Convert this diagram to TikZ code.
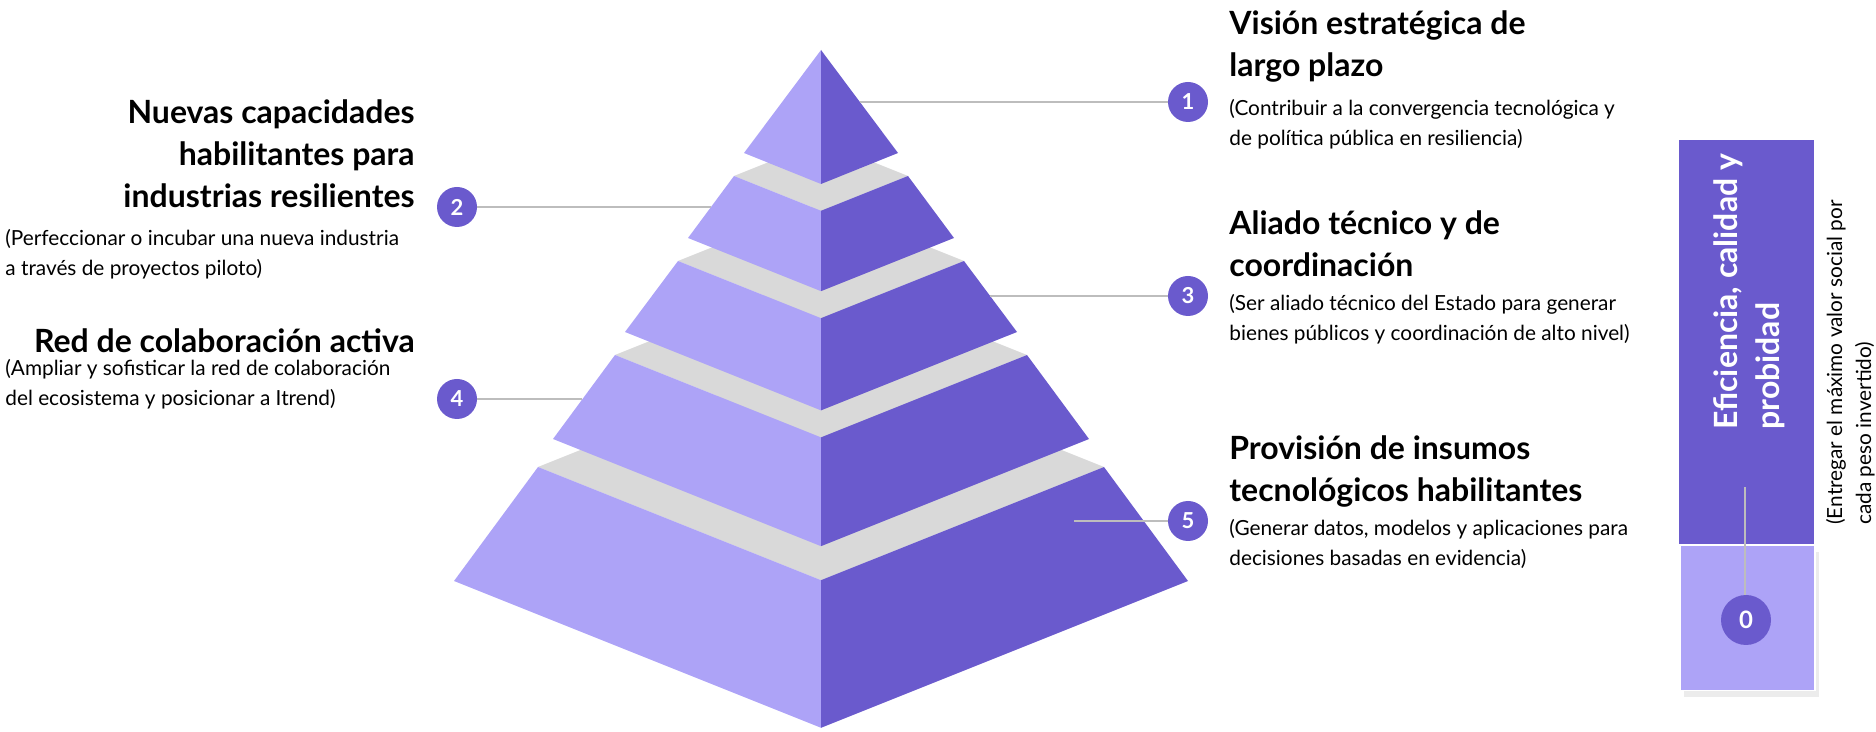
\documentclass[tikz,border=0pt]{standalone}
\usepackage{fontspec}
\setmainfont{Lato}
\usetikzlibrary{shadows}
\definecolor{pyrdark}{HTML}{6A5ACD}
\definecolor{pyrlight}{HTML}{ADA3F7}
\definecolor{pyrtop}{HTML}{D9D9D9}
\definecolor{leader}{HTML}{BDBDBD}

\begin{document}
\begin{tikzpicture}[
        x=0.5pt, y=-0.5pt,
        title/.style={inner sep=0, font=\fontsize{16}{21}\selectfont\bfseries},
        body/.style={inner sep=0, font=\fontsize{10.4}{15}\selectfont},
        badge/.style={circle, fill=pyrdark, text=white, minimum size=20pt, inner sep=0,
            font=\fontsize{11}{11}\selectfont\bfseries},
        leaderline/.style={draw=leader, line width=1pt}
    ]
    \useasboundingbox (0,0) rectangle (1876,732);

    % tiers from the bottom up: top y / top half width / bottom y / bottom half width
    \foreach \ty/\tw/\by/\bw in {467/283/581/367, 355/206/439/268, 261/143/332/196, 176/87/238/133} {
        \fill[pyrtop] (821-\tw,\ty) -- (821,\ty+0.4*\tw) -- (821+\tw,\ty) -- (821,\ty-0.4*\tw) -- cycle;
        \fill[pyrlight] (821-\tw,\ty) -- (821,\ty+0.4*\tw) -- (821,\by+0.4*\bw) -- (821-\bw,\by) -- cycle;
        \fill[pyrdark] (821+\tw,\ty) -- (821,\ty+0.4*\tw) -- (821,\by+0.4*\bw) -- (821+\bw,\by) -- cycle;
    }
    \fill[pyrlight] (821,50) -- (744,153) -- (821,184) -- cycle;
    \fill[pyrdark] (821,50) -- (898,153) -- (821,184) -- cycle;

    % right hand labels (placed at the baseline of their last line)
    \node[title, anchor=base west, align=left] (t1) at (1229,77) {Visión estratégica de\\largo plazo};
    \node[body, anchor=base west, align=left] (d1) at (1229,146) {(Contribuir a la convergencia tecnológica y\\de política pública en resiliencia)};
    \node[title, anchor=base west, align=left] (t3) at (1229,277) {Aliado técnico y de\\coordinación};
    \node[body, anchor=base west, align=left] (d3) at (1229,341) {(Ser aliado técnico del Estado para generar\\bienes públicos y coordinación de alto nivel)};
    \node[title, anchor=base west, align=left] (t5) at (1229,502) {Provisión de insumos\\tecnológicos habilitantes};
    \node[body, anchor=base west, align=left] (d5) at (1229,566) {(Generar datos, modelos y aplicaciones para\\decisiones basadas en evidencia)};

    % left hand labels
    \node[title, anchor=base east, align=right] (t2) at (415,208) {Nuevas capacidades\\habilitantes para\\industrias resilientes};
    \node[body, anchor=base west, align=left] (d2) at (5,276) {(Perfeccionar o incubar una nueva industria\\a través de proyectos piloto)};
    \node[title, anchor=base east, align=right] (t4) at (415,353) {Red de colaboración activa};
    \node[body, anchor=base west, align=left] (d4) at (5,406) {(Ampliar y sofisticar la red de colaboración\\del ecosistema y posicionar a Itrend)};

    % numbered badges and their leaders
    \coordinate (p1) at (860,102);
    \coordinate (p2) at (711,207);
    \coordinate (p3) at (990,296);
    \coordinate (p4) at (582,399);
    \coordinate (p5) at (1074,521);
    \node[badge] (n1) at (1188,102) {1};
    \node[badge] (n2) at (457,207) {2};
    \node[badge] (n3) at (1188,296) {3};
    \node[badge] (n4) at (457,399) {4};
    \node[badge] (n5) at (1188,521) {5};
    \draw[leaderline] (p1) -- (n1);
    \draw[leaderline] (p2) -- (n2);
    \draw[leaderline] (p3) -- (n3);
    \draw[leaderline] (p4) -- (n4);
    \draw[leaderline] (p5) -- (n5);

    % column on the right
    \node[fill=pyrdark, inner sep=0, anchor=north west, minimum width=67.5pt, minimum height=202pt] (goal) at (1679,140) {};
    \node[fill=pyrlight, draw=white, line width=0.8pt, inner sep=0, anchor=north west,
        minimum width=67.5pt, minimum height=72.5pt,
        drop shadow={shadow xshift=2pt, shadow yshift=-3pt, opacity=0.15}] (base) at (goal.south west) {};
    \node[title, text=white, rotate=90, anchor=base west, align=left] (goaltxt) at (1779,430) {Eficiencia, calidad y\\probidad};
    \node[body, font=\fontsize{10.4}{14.5}\selectfont, rotate=90, anchor=base west, align=left] (goalnote) at (1871,525) {(Entregar el máximo valor social por\\cada peso invertido)};
    \coordinate (p0) at (1745,487);
    \node[badge, minimum size=25pt, font=\fontsize{12}{12}\selectfont\bfseries] (n0) at (1746,620) {0};
    \draw[leaderline] (p0) -- (p0 |- n0.north);
\end{tikzpicture}
\end{document}
